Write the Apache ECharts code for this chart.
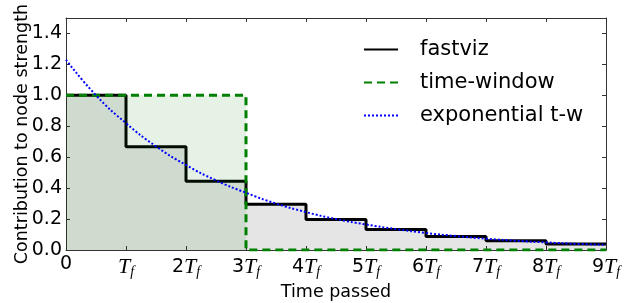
<!DOCTYPE html>
<html>
<head>
<meta charset="utf-8">
<script src="https://cdn.jsdelivr.net/npm/echarts@6/dist/echarts.min.js"></script>
<style>
html,body{margin:0;padding:0;background:#fff;}
#chart{width:636px;height:303px;}
</style>
</head>
<body>
<div id="chart"></div>
<script>
// tick labels of the time axis (multiples of T_f)
var xTickLabels = ['0','T_f','2T_f','3T_f','4T_f','5T_f','6T_f','7T_f','8T_f','9T_f'];

// fastviz: value held over each T_f interval
var fastvizX = [0,1,2,3,4,5,6,7,8,9];
var fastvizY = [1.0,0.667,0.444,0.296,0.198,0.132,0.088,0.059,0.039,0.039];

// time-window: box of height 1 up to 3T_f
var windowX = [0,3,3,9];
var windowY = [1,1,0,0];

// exponential time-window
var expX = [0,0.5,1,1.5,2,2.5,3,3.5,4,4.5,5,5.5,6,6.5,7,7.5,8,8.5,9];
var expY = [1.23,1.0,0.82,0.67,0.55,0.45,0.37,0.30,0.245,0.20,0.165,0.135,0.11,0.09,0.073,0.06,0.049,0.04,0.033];

function pairs(xs,ys){
	var out = [];
	for(var i = 0; i < xs.length; i++){
		out.push([xs[i],ys[i]]);
	}
	return out;
}

var AXIS_COLOR = '#333';

var myChart = echarts.init(document.getElementById('chart'));

myChart.setOption({
	animation:false,
	grid:{left:66,right:30,top:18,bottom:53,outerBoundsMode:'none',containLabel:false},
	legend:{
		left:358,
		top:34,
		orient:'vertical',
		itemWidth:34,
		itemHeight:14,
		itemGap:12,
		itemStyle:{opacity:0},
		textStyle:{
			fontFamily:'DejaVu Sans',
			fontSize:21,
			color:'#000',
			padding:[0,0,0,17]
		},
		data:['fastviz','time-window','exponential t-w']
	},
	xAxis:[
		{
			type:'value',
			min:0,
			max:9,
			interval:1,
			name:'Time passed',
			nameLocation:'middle',
			nameGap:31,
			nameTextStyle:{fontFamily:'DejaVu Sans',fontSize:17.5,color:'#000'},
			axisLine:{onZero:false,lineStyle:{color:AXIS_COLOR,width:1}},
			axisTick:{inside:true,length:4,lineStyle:{color:AXIS_COLOR}},
			splitLine:{show:false},
			axisLabel:{
				margin:5,
				color:'#000',
				formatter:function(v){
					var s = xTickLabels[Math.round(v)];
					if(s.indexOf('T_f') < 0) return '{n|' + s + '}';
					var num = s.replace('T_f','');
					return (num ? '{n|' + num + '}' : '') + '{t|T}{s|f}';
				},
				rich:{
					n:{fontFamily:'DejaVu Sans',fontSize:19,color:'#000'},
					t:{fontFamily:'Liberation Serif',fontStyle:'italic',fontSize:22,color:'#000'},
					s:{fontFamily:'Liberation Serif',fontStyle:'italic',fontSize:14,color:'#000',padding:[10,0,0,0]}
				}
			}
		},
		{
			type:'value',
			position:'top',
			min:0,
			max:9,
			interval:1,
			axisLine:{show:true,onZero:false,lineStyle:{color:AXIS_COLOR,width:1}},
			axisTick:{show:true,inside:true,length:4,lineStyle:{color:AXIS_COLOR}},
			axisLabel:{show:false},
			splitLine:{show:false}
		}
	],
	yAxis:[
		{
			type:'value',
			min:0,
			max:1.5,
			interval:0.2,
			name:'Contribution to node strength',
			nameLocation:'middle',
			nameGap:35,
			nameMoveOverlap:false,
			nameTextStyle:{fontFamily:'DejaVu Sans',fontSize:17.5,color:'#000'},
			axisLine:{show:true,onZero:false,lineStyle:{color:AXIS_COLOR,width:1}},
			axisTick:{inside:true,length:4,lineStyle:{color:AXIS_COLOR}},
			splitLine:{show:false},
			axisLabel:{
				margin:4,
				fontFamily:'DejaVu Sans',
				fontSize:19,
				color:'#000',
				showMaxLabel:false,
				formatter:function(v){ return v.toFixed(1); }
			}
		},
		{
			type:'value',
			position:'right',
			min:0,
			max:1.5,
			interval:0.2,
			axisLine:{show:true,onZero:false,lineStyle:{color:AXIS_COLOR,width:1}},
			axisTick:{show:true,inside:true,length:4,lineStyle:{color:AXIS_COLOR}},
			axisLabel:{show:false},
			splitLine:{show:false}
		}
	],
	series:[
		{
			name:'fastviz',
			type:'line',
			step:'end',
			symbol:'none',
			z:2,
			itemStyle:{color:'#000'},
			lineStyle:{color:'#000',width:3},
			areaStyle:{color:'#000',opacity:0.1},
			data:pairs(fastvizX,fastvizY)
		},
		{
			name:'time-window',
			type:'line',
			symbol:'none',
			z:3,
			itemStyle:{color:'#008000'},
			lineStyle:{color:'#008000',width:3,type:[8,5]},
			areaStyle:{color:'#008000',opacity:0.1},
			data:pairs(windowX,windowY)
		},
		{
			name:'exponential t-w',
			type:'line',
			smooth:true,
			symbol:'none',
			z:4,
			itemStyle:{color:'#0000ff'},
			lineStyle:{color:'#0000ff',width:2,type:[2,2]},
			data:pairs(expX,expY)
		}
	]
});
</script>
</body>
</html>
